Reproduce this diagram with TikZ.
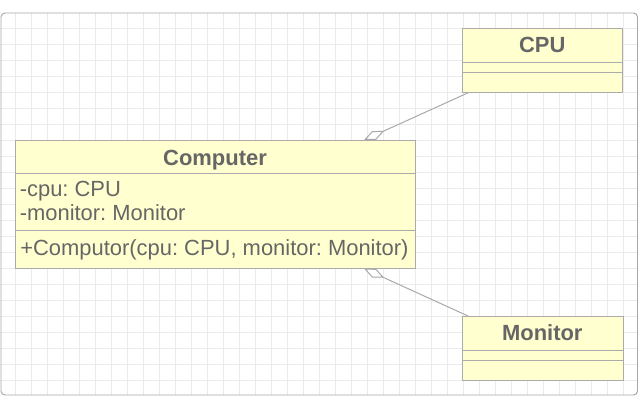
\documentclass[tikz,border=0pt]{standalone}
\usepackage{fontspec}
\setmainfont{Liberation Sans}
\usepackage{tikz}
\usetikzlibrary{calc,arrows.meta}
\frenchspacing

\definecolor{boxfill}{HTML}{FFFFD0}
\definecolor{boxline}{HTML}{ABABAB}
\definecolor{txtgray}{HTML}{666666}
\definecolor{gridgray}{HTML}{EBEBEB}
\definecolor{framegray}{HTML}{A8A8A8}

\begin{document}
\begin{tikzpicture}[x=0.025cm,y=-0.025cm,
  umlbox/.style={draw=boxline,fill=boxfill,line width=0.7pt,rectangle,inner sep=0pt},
  umltext/.style={text=txtgray,inner sep=0pt,font=\fontsize{15.6}{18}\selectfont},
  umltitle/.style={umltext,font=\fontsize{15.6}{18}\selectfont\bfseries,anchor=base},
  assoc/.style={draw=framegray,line width=0.7pt,{Diamond[open,length=0.55cm,width=0.24cm]}-}]
\useasboundingbox (0,0) rectangle (640,409);

% background grid and frame
\begin{scope}
\clip[rounded corners=0.1cm] (1,13) rectangle (637.5,395);
\fill[white] (1,13) rectangle (637.5,395);
\foreach \x in {15.3,31.3,...,631.3}
  \draw[gridgray,line width=0.7pt] (\x,13) -- (\x,395);
\foreach \y in {28.7,44.7,...,380.7}
  \draw[gridgray,line width=0.7pt] (1,\y) -- (637.5,\y);
\end{scope}
\draw[framegray,line width=0.7pt,rounded corners=0.1cm] (1,13) rectangle (637.5,395);

% classes
\node[umlbox,minimum width=10cm,minimum height=3.19cm,anchor=north west] (computer) at (15,140) {};
\node[umlbox,minimum width=4cm,minimum height=1.585cm,anchor=north west] (cpu) at (462.3,28.3) {};
\node[umlbox,minimum width=4.015cm,minimum height=1.6cm,anchor=north west] (monitor) at (462,316) {};

\draw[boxline,line width=0.7pt] ($(computer.north west)+(0,33.3)$) -- ($(computer.north east)+(0,33.3)$);
\draw[boxline,line width=0.7pt] ($(computer.north west)+(0,90)$) -- ($(computer.north east)+(0,90)$);
\draw[boxline,line width=0.7pt] ($(cpu.north west)+(0,34)$) -- ($(cpu.north east)+(0,34)$);
\draw[boxline,line width=0.7pt] ($(cpu.north west)+(0,43.7)$) -- ($(cpu.north east)+(0,43.7)$);
\draw[boxline,line width=0.7pt] ($(monitor.north west)+(0,34)$) -- ($(monitor.north east)+(0,34)$);
\draw[boxline,line width=0.7pt] ($(monitor.north west)+(0,44)$) -- ($(monitor.north east)+(0,44)$);

% texts
\node[umltitle] (computertitle) at (215,165) {Computer};
\node[umltext,anchor=base west] (attrcpu) at (19.5,196.7) {-cpu: CPU};
\node[umltext,anchor=base west] (attrmonitor) at (19.5,220.7) {-monitor: Monitor};
\node[umltext,anchor=base west] (ctor) at (20,255.7) {+Computor(cpu: CPU, monitor: Monitor)};
\node[umltitle] (cputitle) at (542.3,52.3) {CPU};
\node[umltitle] (monitortitle) at (542.3,340.7) {Monitor};

% associations
\coordinate (P) at ($(computer.north east)+(-52,0)$);
\coordinate (Q) at ($(computer.south east)+(-52,0)$);
\coordinate (R) at ($(cpu.south west)+(6,0)$);
\coordinate (S) at ($(monitor.north west)+(6,0)$);
\draw[assoc] (P) -- (R);
\draw[assoc] (Q) -- (S);
\end{tikzpicture}
\end{document}
